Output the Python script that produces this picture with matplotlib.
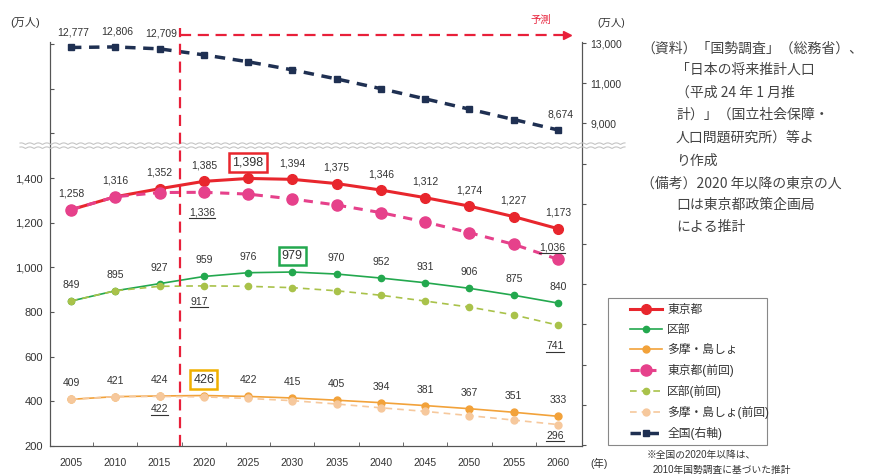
import matplotlib
matplotlib.use("Agg")
import matplotlib.pyplot as plt
import numpy as np
from matplotlib.patches import Rectangle

plt.rcParams["font.family"] = ["Liberation Sans", "Noto Sans CJK JP", "DejaVu Sans"]

# data (万人)
years = [2005, 2010, 2015, 2020, 2025, 2030, 2035, 2040, 2045, 2050, 2055, 2060]
tokyo = [1258, 1316, 1352, 1385, 1398, 1394, 1375, 1346, 1312, 1274, 1227, 1173]
kubu = [849, 895, 927, 959, 976, 979, 970, 952, 931, 906, 875, 840]
tama = [409, 421, 424, 426, 422, 415, 405, 394, 381, 367, 351, 333]
tokyo_prev = [1258, 1316, 1335, 1336, 1328, 1306, 1279, 1245, 1203, 1155, 1103, 1036]
kubu_prev = [849, 895, 915, 917, 915, 909, 895, 875, 849, 822, 787, 741]
tama_prev = [409, 421, 422, 420, 413, 403, 388, 371, 355, 336, 316, 296]
japan = [12777, 12806, 12709, 12410, 12066, 11662, 11212, 10728, 10221, 9708, 9193, 8674]

forecast_start = 2017.3
left_ticks = [200, 400, 600, 800, 1000, 1200, 1400, 1600, 1800, 2000]
right_ticks = [13000, 11000, 9000, 7000, 5000, 3000, 1000, -1000, -3000, -5000, -7000]

C_TOKYO = "#e8262d"
C_KUBU = "#23a84e"
C_TAMA = "#f2a23a"
C_TOKYO_P = "#e6418b"
C_KUBU_P = "#a9c24a"
C_TAMA_P = "#f6c89c"
C_JAPAN = "#1f3052"
C_TEXT = "#333333"
C_FORECAST = "#e8203a"

fig = plt.figure(figsize=(8.8, 4.74), dpi=100)
ax = fig.add_axes([50 / 880, 28 / 474, 532 / 880, 404 / 474])
ax2 = ax.twinx()

ax.set_xlim(2002.63, 2062.71)
ax.set_ylim(200, 2009)
ax2.set_ylim(-7050, 13050)

# current / previous series
l_tokyo, = ax.plot(years, tokyo, color=C_TOKYO, lw=2.2, marker="o", ms=7, zorder=4)
l_kubu, = ax.plot(years, kubu, color=C_KUBU, lw=1.2, marker="o", ms=4.5, zorder=4)
l_tama, = ax.plot(years, tama, color=C_TAMA, lw=1.2, marker="o", ms=5, zorder=4)
l_tokyo_p, = ax.plot(years, tokyo_prev, color=C_TOKYO_P, lw=2.2, ls=(0, (3, 2.5)),
                     marker="o", ms=8, zorder=4.5)
l_kubu_p, = ax.plot(years, kubu_prev, color=C_KUBU_P, lw=1.2, ls=(0, (4, 3)),
                    marker="o", ms=4.5, zorder=4.5)
l_tama_p, = ax.plot(years, tama_prev, color=C_TAMA_P, lw=1.2, ls=(0, (4, 3)),
                    marker="o", ms=5, zorder=4.5)
l_japan, = ax2.plot(years, japan, color=C_JAPAN, lw=2.5, ls=(0, (3, 2.2)),
                    marker="s", ms=5, zorder=4)


def label(axis, x, y, text, dy, dx=0, size=7.5, box=None):
    kw = {}
    if box:
        kw["bbox"] = dict(boxstyle="square,pad=0.25", fc="white", ec=box, lw=1.8)
        size = 9
    return axis.annotate(text, (x, y), xytext=(dx * 0.72, dy * 0.72),
                         textcoords="offset points", ha="center", va="center",
                         fontsize=size, color=C_TEXT, zorder=6, **kw)


boxed = {("tokyo", 2025): C_TOKYO, ("kubu", 2030): C_KUBU, ("tama", 2020): "#f0b000"}
for name, series in [("tokyo", tokyo), ("kubu", kubu), ("tama", tama)]:
    for yr, v in zip(years, series):
        label(ax, yr, v, f"{v:,}", 16, box=boxed.get((name, yr)))

# underlined labels for previous projection
underlined = []
for series, yr, dy, dx in [(tokyo_prev, 2020, -20, -2), (tokyo_prev, 2060, 12, -6),
                           (kubu_prev, 2020, -16, -5), (kubu_prev, 2060, -21, -3),
                           (tama_prev, 2015, -13, 0), (tama_prev, 2060, -11, -3)]:
    v = series[years.index(yr)]
    underlined.append(label(ax, yr, v, f"{v:,}", dy, dx))

for yr in [2005, 2010, 2015, 2060]:
    v = japan[years.index(yr)]
    label(ax2, yr, v, f"{v:,}", 15, dx=2)

# axes styling
for a in (ax, ax2):
    a.spines["top"].set_visible(False)
    for s in ("left", "right", "bottom"):
        a.spines[s].set_color("#555555")
        a.spines[s].set_linewidth(0.8)

ax.set_yticks(left_ticks)
ax.set_yticklabels([f"{t:,}" if t <= 1400 else "" for t in left_ticks])
ax.tick_params(axis="y", direction="in", length=3, pad=5, labelsize=8, colors="#555555",
               labelcolor=C_TEXT)
ax2.set_yticks(right_ticks)
ax2.set_yticklabels([f"{t:,}" if t >= 9000 else "" for t in right_ticks])
ax2.tick_params(axis="y", direction="out", length=3, pad=3, labelsize=7.5, colors="#555555",
                labelcolor=C_TEXT)

ax.set_xticks(years)
ax.set_xticks([y + 2.5 for y in years[:-1]], minor=True)
ax.tick_params(axis="x", which="major", length=0, pad=9, labelsize=7.5, labelcolor=C_TEXT)
ax.tick_params(axis="x", which="minor", direction="in", length=3, colors="#555555")

# forecast marker
top_y = (446 - 35) / 404
ax2.axvline(forecast_start, ymin=0, ymax=top_y + 0.017, color=C_FORECAST, lw=1.6,
            ls=(0, (5, 3)), clip_on=False, zorder=7)
ax2.plot([forecast_start, 2060.6], [top_y, top_y], color=C_FORECAST, lw=1.6,
         ls=(0, (5, 3)), transform=ax2.get_xaxis_transform(), clip_on=False, zorder=7)
ax2.plot([2061.0], [top_y], marker=">", ms=6, color=C_FORECAST,
         transform=ax2.get_xaxis_transform(), clip_on=False, zorder=7)
fig.text(541 / 880, 1 - 20 / 474, "予測", color=C_FORECAST, fontsize=7.5,
         ha="center", va="center")

# axis break waves
wx = np.linspace(20, 625, 900)
for base in (144.5, 148.5):
    wy = base - 1.6 * np.abs(np.sin(np.pi * wx / 8.5))
    ax2.plot(wx / 880, 1 - wy / 474, color="#c4c4c4", lw=0.8,
             transform=fig.transFigure, clip_on=False, zorder=5)

# units
fig.text(10 / 880, 1 - 23 / 474, "(万人)", fontsize=8, color=C_TEXT, ha="left", va="center")
fig.text(597 / 880, 1 - 23 / 474, "(万人)", fontsize=7.5, color=C_TEXT, ha="left", va="center")
fig.text(590 / 880, 1 - 463 / 474, "(年)", fontsize=7.5, color=C_TEXT, ha="left", va="center")

# legend
handles = [l_tokyo, l_kubu, l_tama, l_tokyo_p, l_kubu_p, l_tama_p, l_japan]
labels = ["東京都", "区部", "多摩・島しょ", "東京都(前回)", "区部(前回)",
          "多摩・島しょ(前回)", "全国(右軸)"]
leg = fig.legend(handles, labels, loc="upper left",
                 bbox_to_anchor=(630 / 880, 1 - 304 / 474),
                 borderaxespad=0, borderpad=0, fontsize=8.5, frameon=False,
                 handlelength=2.7, handletextpad=0.45, labelspacing=0.68)
for t in leg.get_texts():
    t.set_color(C_TEXT)
fig.add_artist(Rectangle((608 / 880, 29 / 474), 159 / 880, 147 / 474, fill=False,
                         ec="#888888", lw=0.8, transform=fig.transFigure))

fig.text(647 / 880, 1 - 455 / 474, "※全国の2020年以降は、", fontsize=7, color=C_TEXT,
         ha="left", va="center")
fig.text(653 / 880, 1 - 470 / 474, "2010年国勢調査に基づいた推計", fontsize=7, color=C_TEXT,
         ha="left", va="center")

# source notes
notes = [
    (641, 49, "（資料）「国勢調査」（総務省）、"),
    (676, 70, "「日本の将来推計人口"),
    (676, 93, "（平成 24 年 1 月推"),
    (676, 115, "計）」（国立社会保障・"),
    (676, 138, "人口問題研究所）等よ"),
    (676, 161, "り作成"),
    (641, 184, "（備考）2020 年以降の東京の人"),
    (676, 205, "口は東京都政策企画局"),
    (676, 227, "による推計"),
]
for x, y, s in notes:
    fig.text(x / 880, 1 - y / 474, s, fontsize=10, color="#444444", ha="left", va="center",
             family=["Noto Sans CJK JP", "DejaVu Sans"])

# underline the previous-projection labels
fig.canvas.draw()
renderer = fig.canvas.get_renderer()
inv = fig.transFigure.inverted()
for t in underlined:
    bb = t.get_window_extent(renderer)
    (x0, y0), (x1, _) = inv.transform([(bb.x0, bb.y0 - 0.5), (bb.x1, bb.y0)])
    fig.add_artist(plt.Line2D([x0, x1], [y0, y0], color=C_TEXT, lw=0.8,
                              transform=fig.transFigure))

fig.savefig("out.png", dpi=100)
